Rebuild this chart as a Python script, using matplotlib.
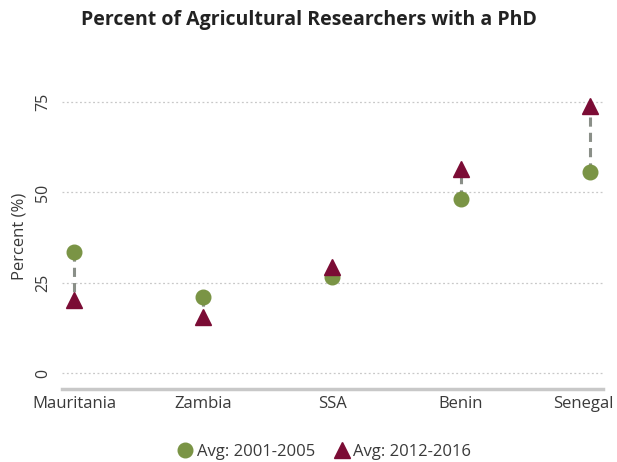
import matplotlib
matplotlib.use("Agg")
import matplotlib.pyplot as plt
import matplotlib.transforms as mtransforms
from matplotlib.lines import Line2D

categories = ["Mauritania", "Zambia", "SSA", "Benin", "Senegal"]
avg_2001_2005 = [33.6, 21.0, 26.5, 48.2, 55.8]
avg_2012_2016 = [20.2, 15.4, 29.4, 56.5, 74.0]
yticks = [0, 25, 50, 75]

green = "#7a9445"
maroon = "#7b0c35"
text_color = "#3a3a3a"
font = ["Open Sans", "DejaVu Sans"]
plt.rcParams["font.family"] = font

fig = plt.figure(figsize=(6.17, 4.62), dpi=100)
ax = fig.add_axes([0.1005, 0.158, 0.8765, 0.66])

x = list(range(len(categories)))
for xi, a, b in zip(x, avg_2001_2005, avg_2012_2016):
    ax.plot([xi, xi], [a, b], color="#8a8f88", lw=2.2, ls=(0, (3, 2)), zorder=2)
ax.plot(x, avg_2001_2005, ls="none", marker="o", color=green, markersize=10.5, zorder=3)
ax.plot(x, avg_2012_2016, ls="none", marker="^", color=maroon, markersize=11, zorder=4)

ax.set_xlim(-0.095, 4.1)
ax.set_ylim(-4.4, 80)
ax.set_yticks(yticks)
ax.set_yticklabels([str(t) for t in yticks], rotation=90, va="center", fontsize=11.5,
                   color=text_color)
ax.set_xticks(x)
ax.set_xticklabels(categories, fontsize=12, color=text_color)
ax.tick_params(axis="both", length=0)
ax.tick_params(axis="y", pad=8)
ax.tick_params(axis="x", pad=5)
ax.grid(axis="y", color="#c8c8c8", ls=(0, (1.5, 2)), lw=0.9)
ax.set_axisbelow(True)
for s in ["top", "right", "left"]:
    ax.spines[s].set_visible(False)
ax.spines["bottom"].set_color("#c8c8c8")
ax.spines["bottom"].set_linewidth(2.5)
ax.set_ylabel("Percent (%)", fontsize=12, color=text_color, labelpad=5)

# keep the last label inside the figure, as in the reference
last = ax.get_xticklabels()[-1]
last.set_transform(last.get_transform() + mtransforms.ScaledTranslation(-7 / 100, 0, fig.dpi_scale_trans))

fig.suptitle("Percent of Agricultural Researchers with a PhD", x=0.5, y=0.978,
             fontsize=14, fontweight="bold", color="#222222")

handles = [
    Line2D([], [], ls="none", marker="o", color=green, markersize=10.5, label="Avg: 2001-2005"),
    Line2D([], [], ls="none", marker="^", color=maroon, markersize=11, label="Avg: 2012-2016"),
]
leg = fig.legend(handles=handles, loc="center", bbox_to_anchor=(0.524, 0.022), ncol=2,
                 frameon=False, handletextpad=0.1, columnspacing=1.0,
                 handlelength=1.2, prop={"size": 12})
for t in leg.get_texts():
    t.set_color(text_color)

fig.savefig("out.png", dpi=100)
